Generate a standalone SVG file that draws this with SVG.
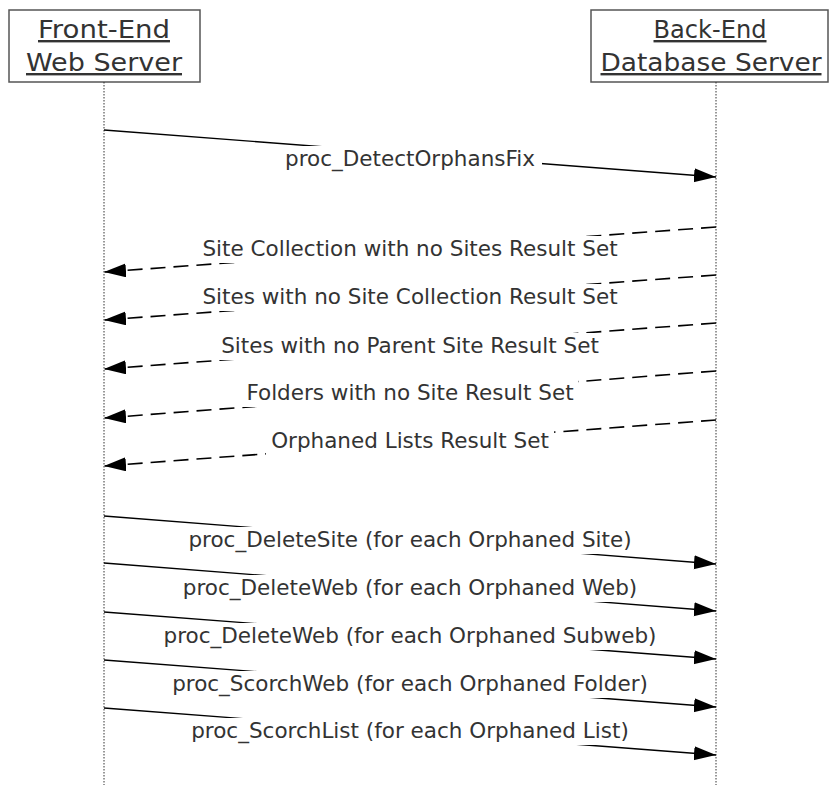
<svg xmlns="http://www.w3.org/2000/svg" width="830" height="785" viewBox="0 0 830 785">
<style>
.box{fill:#fff;stroke:#555;stroke-width:1.5}
.hdr{font-family:"DejaVu Sans",Verdana,sans-serif;font-size:24px;fill:#333;text-anchor:middle;text-decoration:underline}
.life{stroke:#333;stroke-width:1;stroke-dasharray:1.5,1.5}
.msg{stroke:#000;stroke-width:1.3;fill:none}
.ret{stroke:#000;stroke-width:1.6;fill:none;stroke-dasharray:15,8}
.lbl{font-family:"DejaVu Sans",Verdana,sans-serif;font-size:21.5px;fill:#333;text-anchor:middle}
.bg{fill:#fff}
</style>
<defs>
<marker id="ah" markerUnits="userSpaceOnUse" markerWidth="24" markerHeight="16" refX="22" refY="7" orient="auto">
<path d="M0,0 L22,7 L0,14 Z" fill="#000"/>
</marker>
</defs>
<rect width="830" height="785" fill="#fff"/>
<g id="frontend">
<rect class="box" x="9" y="10" width="191" height="72"/>
<text class="hdr" x="104" y="38" textLength="132" lengthAdjust="spacingAndGlyphs">Front-End</text>
<text class="hdr" x="104" y="71" textLength="156" lengthAdjust="spacingAndGlyphs">Web Server</text>
<line class="life" x1="104" y1="82" x2="104" y2="785"/>
</g>
<g id="backend">
<rect class="box" x="591" y="10" width="237" height="72"/>
<text class="hdr" x="710" y="38" textLength="113" lengthAdjust="spacingAndGlyphs">Back-End</text>
<text class="hdr" x="711" y="71" textLength="221" lengthAdjust="spacingAndGlyphs">Database Server</text>
<line class="life" x1="716" y1="82" x2="716" y2="785"/>
</g>
<g id="connectors">
<line class="msg" x1="104" y1="130" x2="716" y2="177" marker-end="url(#ah)"/>
<line class="ret" x1="716" y1="227" x2="104" y2="272" marker-end="url(#ah)"/>
<line class="ret" x1="716" y1="275" x2="104" y2="320" marker-end="url(#ah)"/>
<line class="ret" x1="716" y1="323" x2="104" y2="369" marker-end="url(#ah)"/>
<line class="ret" x1="716" y1="371" x2="104" y2="418" marker-end="url(#ah)"/>
<line class="ret" x1="716" y1="420" x2="104" y2="466" marker-end="url(#ah)"/>
<line class="msg" x1="104" y1="516" x2="716" y2="564" marker-end="url(#ah)"/>
<line class="msg" x1="104" y1="563" x2="716" y2="611" marker-end="url(#ah)"/>
<line class="msg" x1="104" y1="612" x2="716" y2="659" marker-end="url(#ah)"/>
<line class="msg" x1="104" y1="660" x2="716" y2="707" marker-end="url(#ah)"/>
<line class="msg" x1="104" y1="708" x2="716" y2="755" marker-end="url(#ah)"/>
</g>
<g id="labels">
<rect class="bg" x="278" y="146" width="264" height="27"/>
<text class="lbl" x="410" y="166">proc_DetectOrphansFix</text>
<rect class="bg" x="198" y="236" width="424" height="27"/>
<text class="lbl" x="410" y="256">Site Collection with no Sites Result Set</text>
<rect class="bg" x="198" y="284" width="424" height="27"/>
<text class="lbl" x="410" y="304">Sites with no Site Collection Result Set</text>
<rect class="bg" x="216" y="333" width="388" height="27"/>
<text class="lbl" x="410" y="353">Sites with no Parent Site Result Set</text>
<rect class="bg" x="242" y="380" width="336" height="27"/>
<text class="lbl" x="410" y="400">Folders with no Site Result Set</text>
<rect class="bg" x="266" y="428" width="288" height="27"/>
<text class="lbl" x="410" y="448">Orphaned Lists Result Set</text>
<rect class="bg" x="184" y="527" width="452" height="27"/>
<text class="lbl" x="410" y="547">proc_DeleteSite (for each Orphaned Site)</text>
<rect class="bg" x="178" y="575" width="464" height="27"/>
<text class="lbl" x="410" y="595">proc_DeleteWeb (for each Orphaned Web)</text>
<rect class="bg" x="158" y="623" width="504" height="27"/>
<text class="lbl" x="410" y="643">proc_DeleteWeb (for each Orphaned Subweb)</text>
<rect class="bg" x="167" y="671" width="486" height="27"/>
<text class="lbl" x="410" y="691">proc_ScorchWeb (for each Orphaned Folder)</text>
<rect class="bg" x="186" y="718" width="448" height="27"/>
<text class="lbl" x="410" y="738">proc_ScorchList (for each Orphaned List)</text>
</g>
</svg>
